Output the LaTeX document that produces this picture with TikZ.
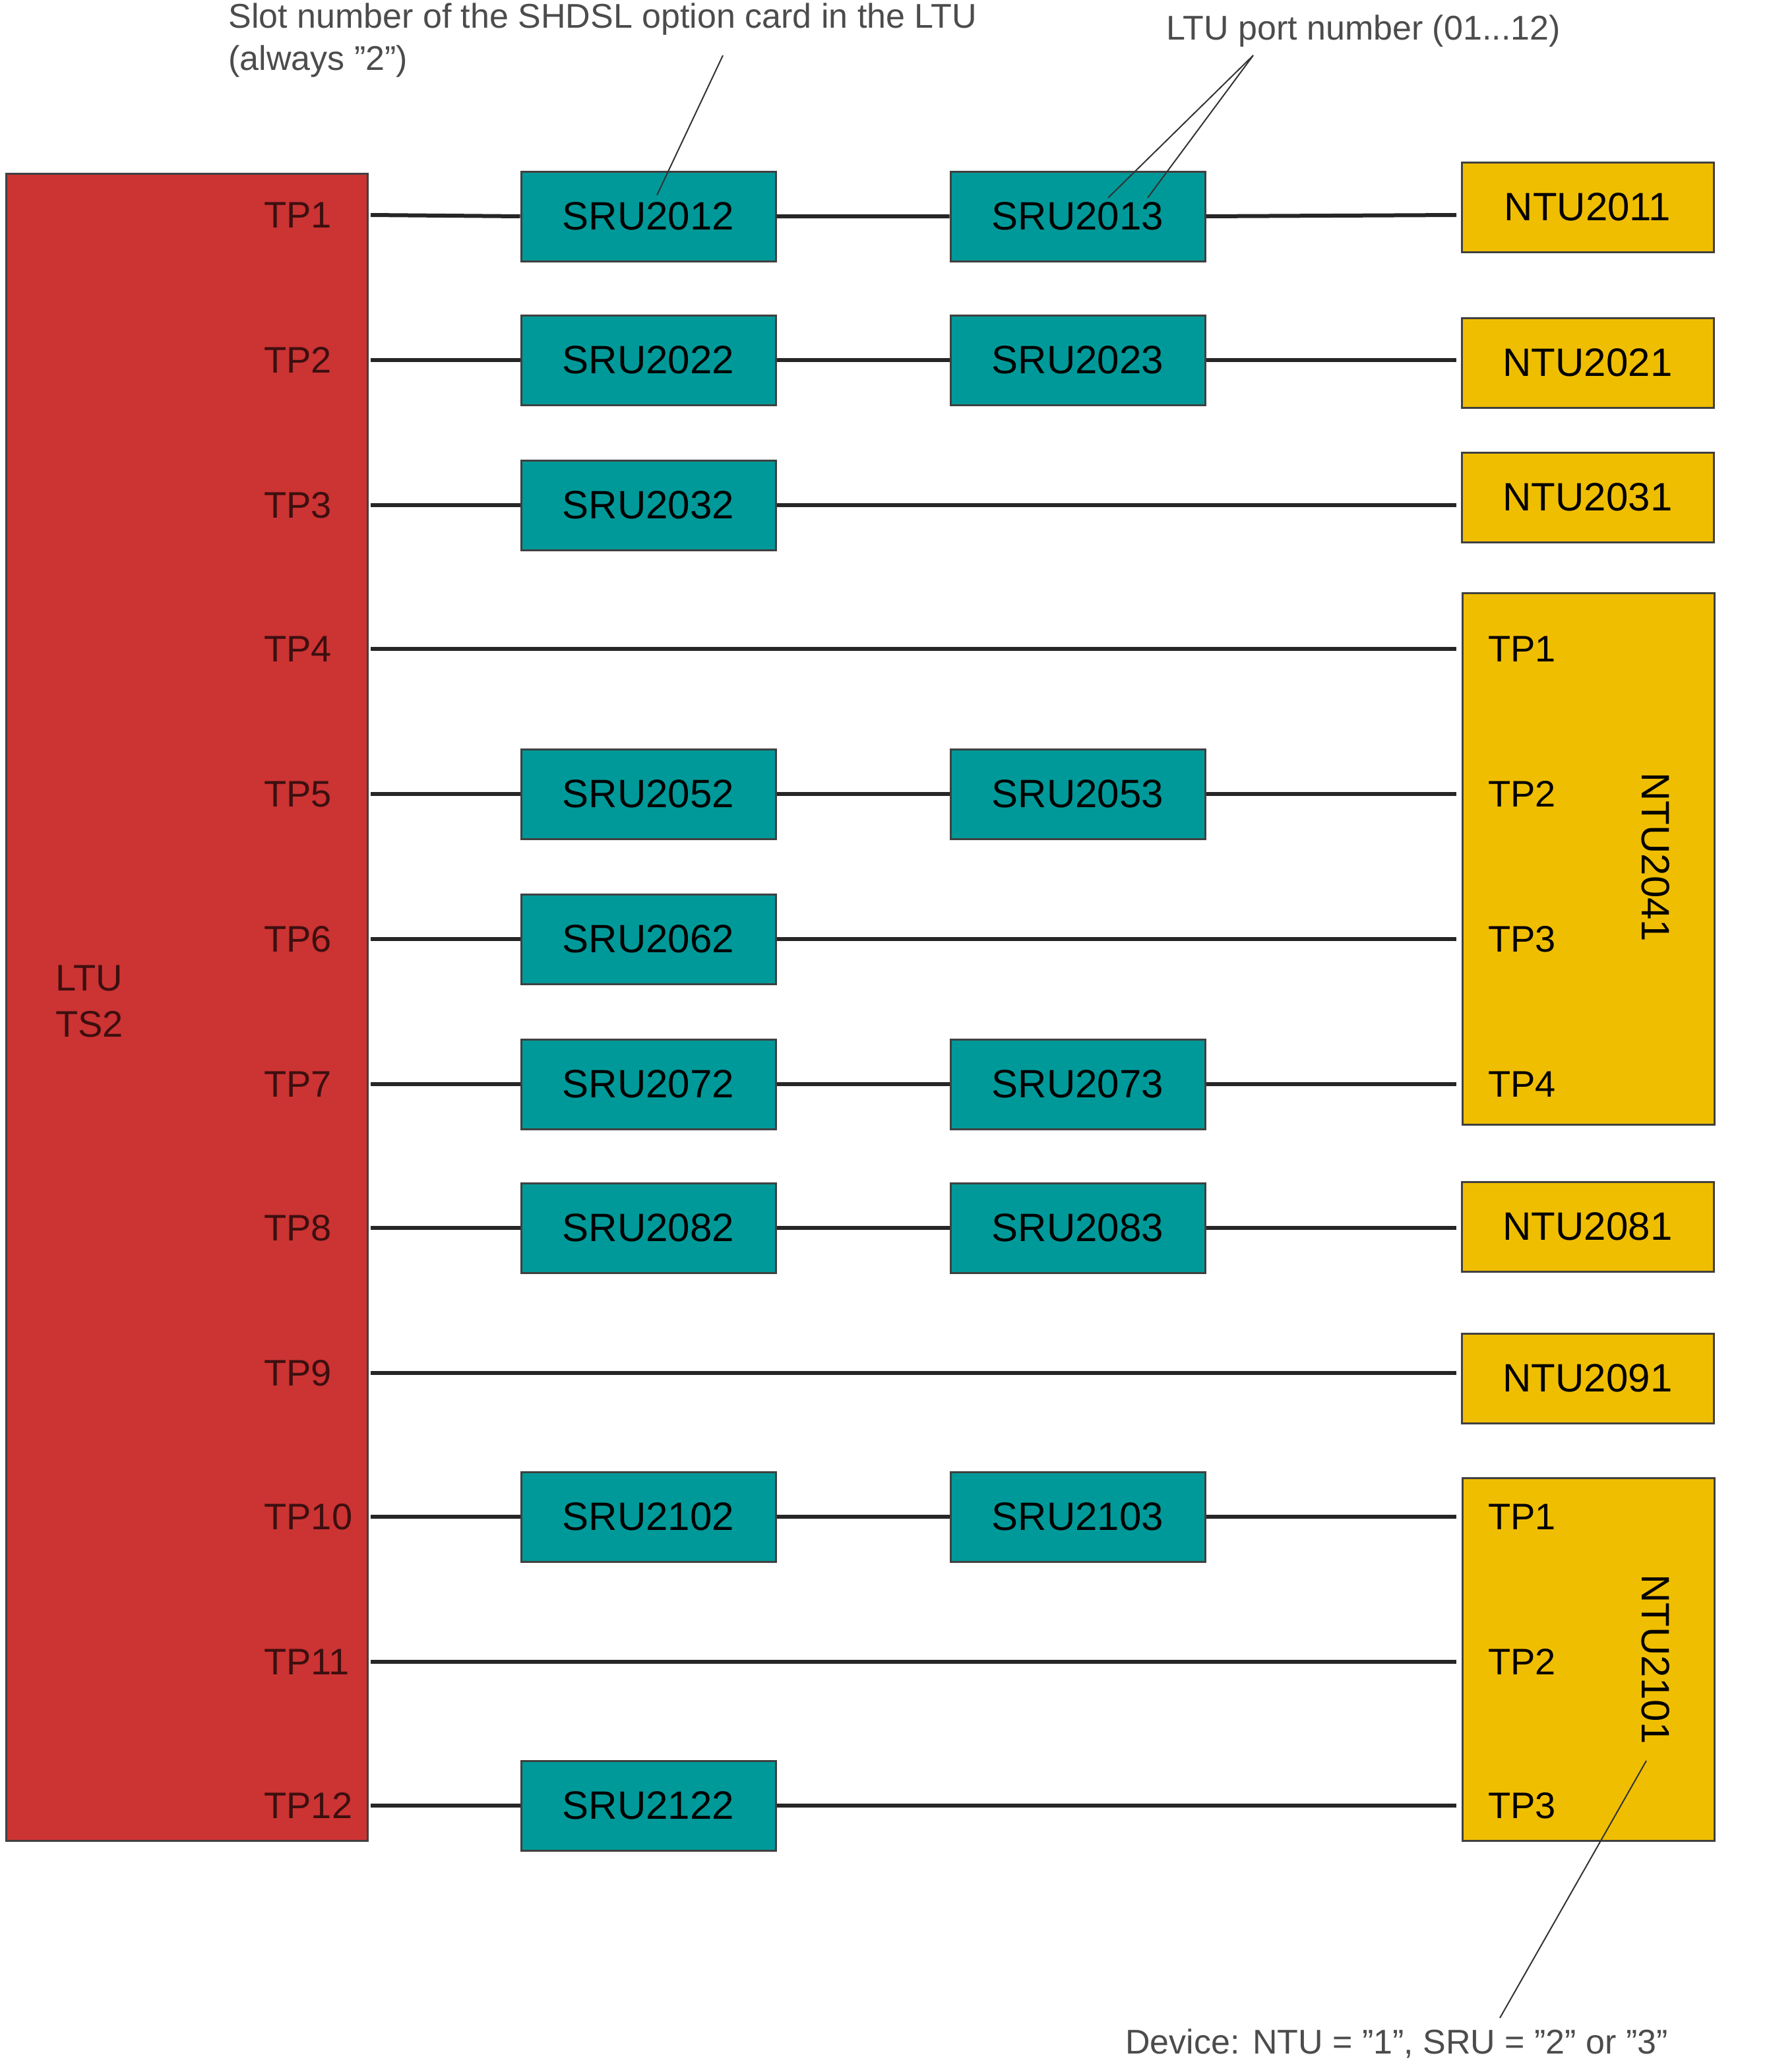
\documentclass[tikz,border=0pt]{standalone}
\usepackage{fontspec}
\setmainfont{Liberation Sans}
\begin{document}
\begin{tikzpicture}[x=1pt,y=-1pt,
  box/.style={draw=black!75,line width=1.5pt,inner sep=0pt,minimum height=68pt},
  sru/.style={box,fill=sruc,minimum width=193pt,font=\fontsize{30}{32}\selectfont},
  ntu/.style={box,fill=ntuc,minimum width=191pt,font=\fontsize{30}{32}\selectfont},
  tpl/.style={anchor=west,inner sep=0pt,font=\fontsize{28}{30}\selectfont},
  wire/.style={draw=black!85,line width=3pt},
  note/.style={font=\fontsize{26}{30}\selectfont,text=black!70,inner sep=0pt,anchor=north west,align=left},
  lead/.style={draw=black!80,line width=1pt}]
\definecolor{ltuc}{HTML}{CC3333}
\definecolor{sruc}{HTML}{009999}
\definecolor{ntuc}{HTML}{F0BE00}
\useasboundingbox (0,0) rectangle (1339,1571);
% LTU
\node[box,fill=ltuc,minimum width=274pt,minimum height=1264pt,anchor=north west] (ltu) at (4,131) {};
\node[anchor=north west,inner sep=0pt,align=left,font=\fontsize{28}{35}\selectfont,text=black!70!ltuc] (ltulabel) at (42,732) {LTU\\TS2};
\foreach \i/\y in {1/163,2/273,3/383,4/492,5/602,6/712,7/822,8/931,9/1041,10/1150,11/1260,12/1369}{
  \node[tpl,text=black!70!ltuc] (tp\i) at (200,\y) {TP\i};
  \coordinate (l\i) at (281,\y);
  \coordinate (r\i) at (1104,\y);
}
% SRUs
\node[sru] (s2012) at (491.5,164) {SRU2012};
\node[sru] (s2013) at (817,164) {SRU2013};
\node[sru] (s2022) at (491.5,273) {SRU2022};
\node[sru] (s2023) at (817,273) {SRU2023};
\node[sru] (s2032) at (491.5,383) {SRU2032};
\node[sru] (s2052) at (491.5,602) {SRU2052};
\node[sru] (s2053) at (817,602) {SRU2053};
\node[sru] (s2062) at (491.5,712) {SRU2062};
\node[sru] (s2072) at (491.5,822) {SRU2072};
\node[sru] (s2073) at (817,822) {SRU2073};
\node[sru] (s2082) at (491.5,931) {SRU2082};
\node[sru] (s2083) at (817,931) {SRU2083};
\node[sru] (s2102) at (491.5,1150) {SRU2102};
\node[sru] (s2103) at (817,1150) {SRU2103};
\node[sru] (s2122) at (491.5,1369) {SRU2122};
% NTUs
\node[ntu] (n2011) at (1203.5,157) {NTU2011};
\node[ntu] (n2021) at (1203.5,275) {NTU2021};
\node[ntu] (n2031) at (1203.5,377) {NTU2031};
\node[ntu,minimum height=403pt,anchor=north west] (n2041) at (1108,449) {};
\node[ntu] (n2081) at (1203.5,930) {NTU2081};
\node[ntu] (n2091) at (1203.5,1045) {NTU2091};
\node[ntu,minimum height=275pt,anchor=north west] (n2101) at (1108,1120) {};
\node[rotate=-90,font=\fontsize{30}{32}\selectfont,inner sep=0pt] (n2041l) at (1255,650) {NTU2041};
\node[rotate=-90,font=\fontsize{30}{32}\selectfont,inner sep=0pt] (n2101l) at (1255,1258) {NTU2101};
\foreach \i/\y in {1/492,2/602,3/712,4/822}{\node[tpl] (a\i) at (1128,\y) {TP\i};}
\foreach \i/\y in {1/1150,2/1260,3/1369}{\node[tpl] (b\i) at (1128,\y) {TP\i};}
% wires
\draw[wire] (l1) -- (s2012.west) (s2012.east) -- (s2013.west) (s2013.east) -- (r1);
\draw[wire] (l2) -- (s2022.west) (s2022.east) -- (s2023.west) (s2023.east) -- (r2);
\draw[wire] (l3) -- (s2032.west) (s2032.east) -- (r3);
\draw[wire] (l4) -- (r4);
\draw[wire] (l5) -- (s2052.west) (s2052.east) -- (s2053.west) (s2053.east) -- (r5);
\draw[wire] (l6) -- (s2062.west) (s2062.east) -- (r6);
\draw[wire] (l7) -- (s2072.west) (s2072.east) -- (s2073.west) (s2073.east) -- (r7);
\draw[wire] (l8) -- (s2082.west) (s2082.east) -- (s2083.west) (s2083.east) -- (r8);
\draw[wire] (l9) -- (r9);
\draw[wire] (l10) -- (s2102.west) (s2102.east) -- (s2103.west) (s2103.east) -- (r10);
\draw[wire] (l11) -- (r11);
\draw[wire] (l12) -- (s2122.west) (s2122.east) -- (r12);
% notes
\node[note] (slot) at (173,2) {Slot number of the SHDSL option card in the LTU\\[2pt](always "2")};
\node[note] (port) at (884,11) {LTU port number (01...12)};
\node[note] (dev) at (853,1538) {Device: NTU = "1", SRU = "2" or "3"};
\coordinate (p1) at (548,42);
\coordinate (p2) at (950,42);
\coordinate (p3) at (1248,1335);
\coordinate (p4) at (1137,1530);
\draw[lead] (p1) -- (498,148);
\draw[lead] (p2) -- (840,150);
\draw[lead] (p2) -- (870,150);
\draw[lead] (p3) -- (p4);
\end{tikzpicture}
\end{document}
